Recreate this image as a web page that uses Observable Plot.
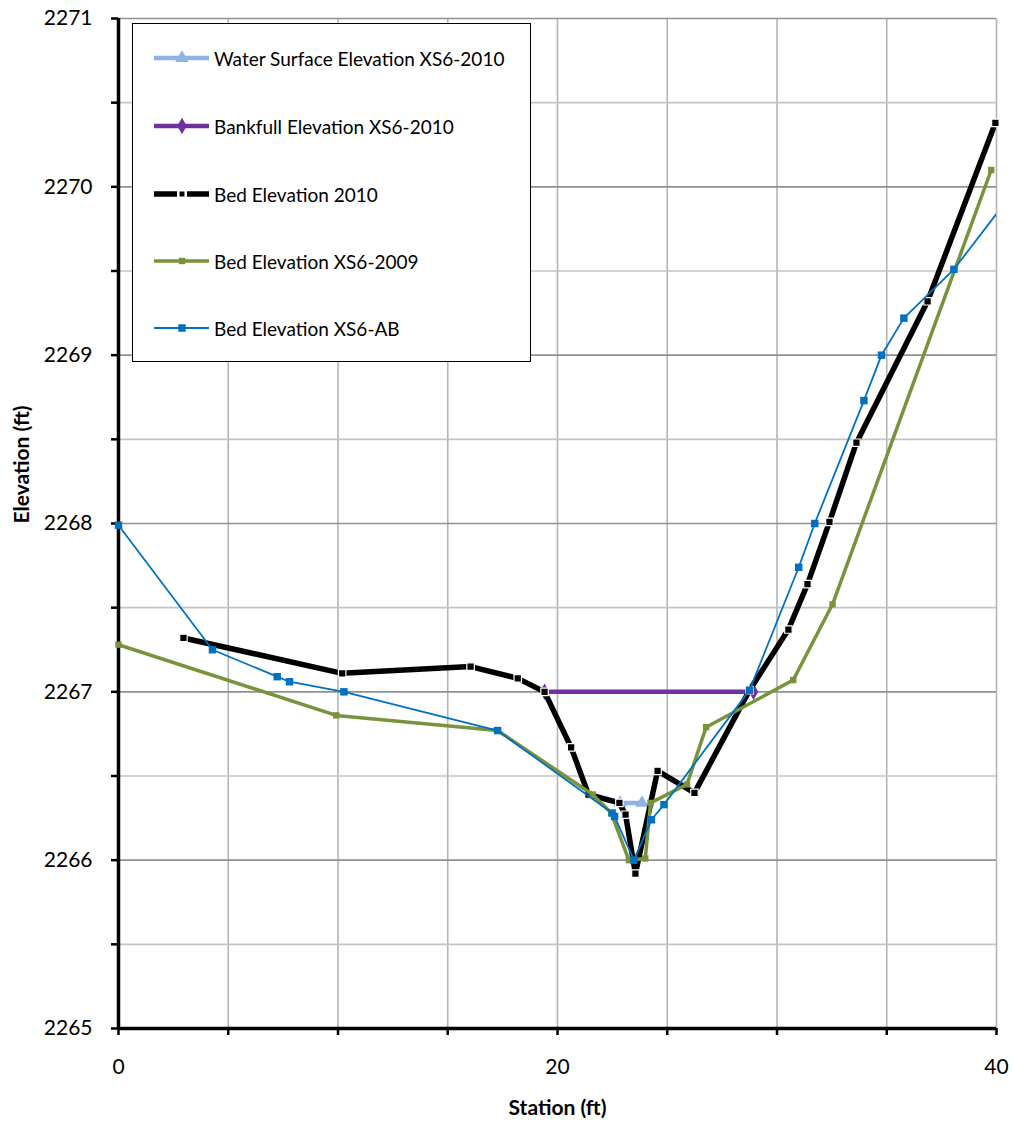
<!DOCTYPE html>
<html><head><meta charset="utf-8">
<script src="https://cdn.jsdelivr.net/npm/d3@7"></script>
<script src="https://cdn.jsdelivr.net/npm/@observablehq/plot@0.6"></script>
<style>
body{margin:0;background:#fff;}
#wrap{position:relative;width:1013px;height:1131px;font-family:Lato,"Open Sans",sans-serif;}
#legend{position:absolute;left:132px;top:23px;width:399px;height:339px;background:#fff;border:1.5px solid #000;box-sizing:border-box;}
.entry{position:absolute;left:20px;height:30px;display:flex;align-items:center;font-size:19px;color:#000;white-space:nowrap;}
.entry svg{margin-right:3px;}
</style></head>
<body><div id="wrap"></div>
<script>
// ---- data ----
const seriesNames = ["Water Surface Elevation XS6-2010","Bankfull Elevation XS6-2010","Bed Elevation 2010","Bed Elevation XS6-2009","Bed Elevation XS6-AB"];

const waterX = [22.85, 23.85];
const waterY = [2266.34, 2266.34];

const bankX = [19.41, 28.93];
const bankY = [2267.0, 2267.0];

const bed2010X = [2.96, 10.19, 16.04, 18.19, 19.41, 20.62, 21.41, 22.82, 23.10, 23.55, 24.56, 26.24, 28.75, 30.52, 31.39, 32.39, 33.62, 36.86, 39.95];
const bed2010Y = [2267.32, 2267.11, 2267.15, 2267.08, 2267.00, 2266.67, 2266.39, 2266.34, 2266.27, 2265.92, 2266.53, 2266.40, 2267.01, 2267.37, 2267.64, 2268.01, 2268.48, 2269.32, 2270.38];

const bed2009X = [0, 9.92, 17.27, 21.6, 22.45, 23.25, 24.0, 24.24, 25.9, 26.77, 30.74, 32.53, 39.76];
const bed2009Y = [2267.28, 2266.86, 2266.77, 2266.39, 2266.28, 2266.00, 2266.01, 2266.34, 2266.45, 2266.79, 2267.07, 2267.52, 2270.10];

const bedABX = [0, 4.28, 7.23, 7.79, 10.27, 17.27, 22.49, 22.6, 23.48, 24.28, 24.85, 28.75, 30.99, 31.72, 33.96, 34.76, 35.78, 38.06, 40];
const bedABY = [2267.99, 2267.25, 2267.09, 2267.06, 2267.0, 2266.77, 2266.28, 2266.26, 2266.0, 2266.24, 2266.33, 2267.01, 2267.74, 2268.0, 2268.73, 2269.0, 2269.22, 2269.51, 2269.84];

const xTicks = [0, 5, 10, 15, 20, 25, 30, 35, 40];
const xTickLabels = [0, 20, 40];
const yTicks = [2265, 2265.5, 2266, 2266.5, 2267, 2267.5, 2268, 2268.5, 2269, 2269.5, 2270, 2270.5, 2271];
const yTickLabels = [2265, 2266, 2267, 2268, 2269, 2270, 2271];

// ---- styles ----
const colors = ["#8db4e2", "#7030a0", "#000000", "#77933c", "#0070c0"];
const widths = [4.5, 4.5, 5.5, 3.5, 1.8];
const symbols = ["triangle", "diamond", "square", "square", "square"];
const radii = [5, 5, 4.2, 3.6, 4.2];

const toRows = (xs, ys) => xs.map((x, i) => ({x, y: ys[i]}));
const series = [toRows(waterX, waterY), toRows(bankX, bankY), toRows(bed2010X, bed2010Y), toRows(bed2009X, bed2009Y), toRows(bedABX, bedABY)];

const seriesMarks = [];
series.forEach((rows, i) => {
  seriesMarks.push(Plot.line(rows, {x: "x", y: "y", stroke: colors[i], strokeWidth: widths[i], strokeLinejoin: "round", clip: true}));
  seriesMarks.push(Plot.dot(rows.filter(d => d.x < 40), {x: "x", y: "y", symbol: symbols[i], r: radii[i], fill: colors[i],
    stroke: i === 2 ? "#fff" : "none", strokeWidth: i === 2 ? 1.2 : 0}));
});

const chart = Plot.plot({
  width: 1013, height: 1131,
  marginLeft: 118, marginRight: 17, marginTop: 18, marginBottom: 103,
  x: {domain: [0, 40]},
  y: {domain: [2265, 2271]},
  style: {fontFamily: "Lato, 'Open Sans', sans-serif", fontSize: "21px", color: "#000", background: "#fff", overflow: "visible"},
  marks: [
    Plot.gridX(xTicks, {stroke: "#b4b4b4", strokeOpacity: 1, strokeWidth: 1.6}),
    Plot.gridY(yTicks.filter(v => v % 1 !== 0), {stroke: "#c4c4c4", strokeOpacity: 1, strokeWidth: 1.6}),
    Plot.gridY(yTickLabels, {stroke: "#909090", strokeOpacity: 1, strokeWidth: 1.6}),
    Plot.axisX(xTicks, {tickSize: 7, strokeWidth: 2.5, tickFormat: () => "", label: null}),
    Plot.axisX(xTickLabels, {tickSize: 0, tickPadding: 31, label: null}),
    Plot.axisY(yTicks, {tickSize: 7, strokeWidth: 2.5, tickFormat: () => "", label: null}),
    Plot.axisY(yTickLabels, {tickSize: 0, tickPadding: 26, label: null, tickFormat: d => String(d)}),
    Plot.ruleX([0], {stroke: "#000", strokeWidth: 3.5}),
    Plot.ruleY([2265], {stroke: "#000", strokeWidth: 3.5}),
    ...seriesMarks,
    Plot.text(["Elevation (ft)"], {text: d => d, frameAnchor: "left", rotate: -90, dx: -96, fontWeight: "bold", fontSize: 21}),
    Plot.text(["Station (ft)"], {text: d => d, frameAnchor: "bottom", dy: 86, fontWeight: "bold", fontSize: 21})
  ]
});

const wrap = document.getElementById("wrap");
wrap.appendChild(chart);

// ---- legend (overlay inside plot area) ----
const legend = document.createElement("div");
legend.id = "legend";
wrap.appendChild(legend);
const entryTops = [19, 87, 155, 222, 289];
seriesNames.forEach((name, i) => {
  const e = document.createElement("div");
  e.className = "entry";
  e.style.top = entryTops[i] + "px";
  const svg = d3.create("svg").attr("width", 58).attr("height", 30);
  svg.append("line").attr("x1", 1).attr("x2", 56).attr("y1", 15).attr("y2", 15)
    .attr("stroke", colors[i]).attr("stroke-width", widths[i]);
  const sym = {triangle: d3.symbolTriangle, diamond: d3.symbolDiamond, square: d3.symbolSquare}[symbols[i]];
  svg.append("path").attr("transform", "translate(29,15)")
    .attr("d", d3.symbol(sym, Math.PI * radii[i] * radii[i])())
    .attr("fill", colors[i])
    .attr("stroke", i === 2 ? "#fff" : "none").attr("stroke-width", i === 2 ? 2.5 : 0);
  e.appendChild(svg.node());
  const t = document.createElement("span");
  t.textContent = name;
  e.appendChild(t);
  legend.appendChild(e);
});
</script>
</body></html>
